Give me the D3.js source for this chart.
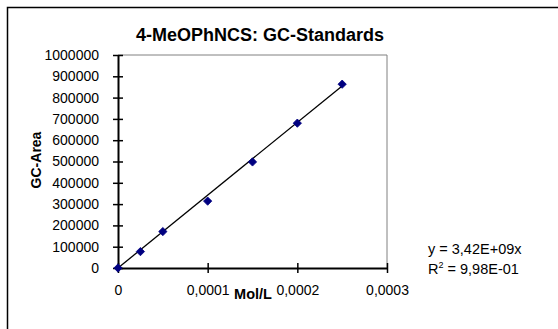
<!DOCTYPE html>
<html><head><meta charset="utf-8">
<script src="https://cdn.jsdelivr.net/npm/d3@7"></script>
<style>body{margin:0;background:#fff}svg{display:block;font-family:"Liberation Sans",Arial,sans-serif}</style>
</head><body>
<script>
const concentrations = [0, 0.000025, 0.00005, 0.0001, 0.00015, 0.0002, 0.00025];
const areas = [0, 77000, 171000, 314000, 498000, 680000, 863000];
const xTicks = [0, 0.0001, 0.0002, 0.0003];
const xTickLabels = ["0", "0,0001", "0,0002", "0,0003"];
const yTicks = [0,100000,200000,300000,400000,500000,600000,700000,800000,900000,1000000];
const slope = 3.42e9;
const titleText = "4-MeOPhNCS: GC-Standards";
const eqLines = ["y = 3,42E+09x", "R", " = 9,98E-01"];

const W = 558, H = 329;
const FONT = "Liberation Sans, Arial, sans-serif";
const svg = d3.select("body").append("svg").attr("width", W).attr("height", H);
// outer chart frame (extends beyond image)
svg.append("rect").attr("x",7.5).attr("y",7.5).attr("width",W+10).attr("height",H+10)
  .attr("fill","none").attr("stroke","#000").attr("stroke-width",1.5);

const x = d3.scaleLinear().domain([0,0.0003]).range([118,387]);
const y = d3.scaleLinear().domain([0,1000000]).range([268,55]);

// plot area border (gray top/right)
svg.append("path").attr("d",`M${x(0)},${y(1e6)}H${x(0.0003)}V${y(0)}`)
  .attr("fill","none").attr("stroke","#808080").attr("stroke-width",1);

// y axis
const yAxis = svg.append("g").attr("transform",`translate(${x(0)},0)`)
  .call(d3.axisLeft(y).tickValues(yTicks).tickFormat(d3.format("d")).tickSizeInner(5).tickSizeOuter(0).tickPadding(14));
yAxis.select(".domain").attr("stroke","#000").attr("stroke-width",2);
yAxis.selectAll(".tick line").attr("x1",5).attr("x2",-5).attr("stroke","#000").attr("stroke-width",1.5);
yAxis.selectAll("text").attr("font-size",14).attr("fill","#000").attr("font-family",FONT);

// x axis
const xAxis = svg.append("g").attr("transform",`translate(0,${y(0)})`)
  .call(d3.axisBottom(x).tickValues(xTicks).tickFormat((d,i)=>xTickLabels[i]).tickSizeInner(5).tickSizeOuter(0).tickPadding(12));
xAxis.select(".domain").attr("stroke","#000").attr("stroke-width",2);
xAxis.selectAll(".tick line").attr("y1",-5).attr("y2",5).attr("stroke","#000").attr("stroke-width",1.5);
xAxis.selectAll("text").attr("font-size",14).attr("fill","#000").attr("font-family",FONT);

// trendline
const xmax = d3.max(concentrations);
svg.append("line").attr("x1",x(0)).attr("y1",y(0)).attr("x2",x(xmax)).attr("y2",y(slope*xmax))
  .attr("stroke","#000").attr("stroke-width",1.3);

// diamond markers
svg.append("g").selectAll("path").data(concentrations).join("path")
  .attr("d", d3.symbol().type(d3.symbolDiamond2).size(44))
  .attr("transform",(d,i)=>`translate(${x(d)},${y(areas[i])})`)
  .attr("fill","#000080").attr("stroke","#000080").attr("stroke-width",0.8);

// title
svg.append("text").attr("x",260).attr("y",41).attr("text-anchor","middle")
  .attr("font-size",18).attr("font-weight","bold").text(titleText);

// axis titles
svg.append("text").attr("x",253).attr("y",299).attr("text-anchor","middle")
  .attr("font-size",14.5).attr("font-weight","bold").text("Mol/L");
svg.append("text").attr("transform","translate(41,160) rotate(-90)").attr("text-anchor","middle")
  .attr("font-size",14).attr("font-weight","bold").text("GC-Area");

// equation
svg.append("text").attr("x",428).attr("y",254).attr("font-size",14.5).text(eqLines[0]);
const r2 = svg.append("text").attr("x",428).attr("y",274).attr("font-size",14.5);
r2.append("tspan").text(eqLines[1]);
r2.append("tspan").attr("dy",-6).attr("font-size",9).text("2");
r2.append("tspan").attr("dy",6).text(eqLines[2]);
</script>
</body></html>
